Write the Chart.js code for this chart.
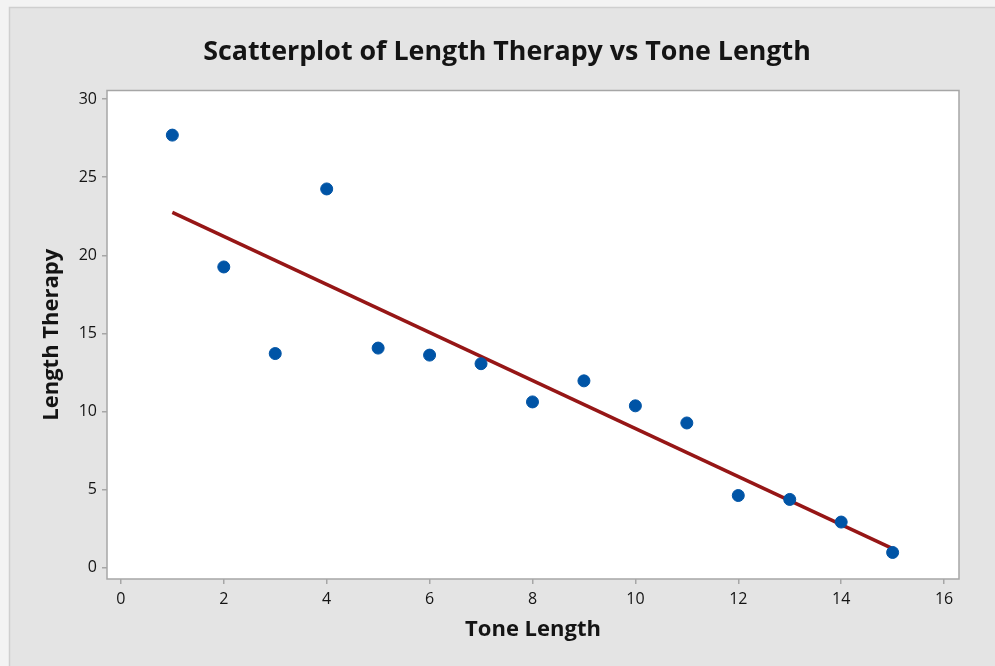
<!DOCTYPE html>
<html>
<head>
<meta charset="utf-8">
<title>Scatterplot of Length Therapy vs Tone Length</title>
<script src="https://cdn.jsdelivr.net/npm/chart.js@4.4.1/dist/chart.umd.min.js"></script>
<style>
    html, body { margin: 0; padding: 0; background: #f3f3f3; }
    #wrap { width: 995px; height: 666px; }
</style>
</head>
<body>
<div id="wrap"><canvas id="scatterChart" width="995" height="666"></canvas></div>
<script>
// Tone length vs length of therapy
const toneLength = [1, 2, 3, 4, 5, 6, 7, 8, 9, 10, 11, 12, 13, 14, 15];
const lengthTherapy = [27.7, 19.25, 13.7, 24.25, 14.05, 13.6, 13.05, 10.6, 11.95, 10.35, 9.25, 4.6, 4.35, 2.9, 0.95];

// Fitted line end points
const fitX = [1, 15];
const fitY = [22.75, 1.2];

const xTicks = [0, 2, 4, 6, 8, 10, 12, 14, 16];
const yTicks = [0, 5, 10, 15, 20, 25, 30];

const chartTitle = 'Scatterplot of Length Therapy vs Tone Length';

// grey frame, white plot area, border round it and the title text
const frameBackground = {
    id: 'frameBackground',
    beforeDraw(chart) {
        const ctx = chart.ctx;
        const area = chart.chartArea;
        ctx.save();
        ctx.fillStyle = '#f3f3f3';
        ctx.fillRect(0, 0, chart.width, chart.height);
        ctx.fillStyle = '#e4e4e4';
        ctx.fillRect(9, 7, chart.width - 9, chart.height - 7);
        ctx.strokeStyle = '#cfcfcf';
        ctx.lineWidth = 1.5;
        ctx.beginPath();
        ctx.moveTo(9.5, chart.height);
        ctx.lineTo(9.5, 7.5);
        ctx.lineTo(chart.width, 7.5);
        ctx.stroke();
        ctx.fillStyle = '#ffffff';
        ctx.fillRect(area.left, area.top, area.right - area.left, area.bottom - area.top);
        ctx.restore();
    },
    afterDatasetsDraw(chart) {
        const ctx = chart.ctx;
        const area = chart.chartArea;
        ctx.save();
        ctx.strokeStyle = '#a6a6a6';
        ctx.lineWidth = 1.5;
        ctx.strokeRect(area.left, area.top, area.right - area.left, area.bottom - area.top);
        ctx.fillStyle = '#141414';
        ctx.font = 'bold 26.8px "Open Sans"';
        ctx.textAlign = 'center';
        ctx.textBaseline = 'middle';
        ctx.fillText(chartTitle, 507, 52);
        ctx.restore();
    }
};

const ctx = document.getElementById('scatterChart');
new Chart(ctx, {
    type: 'scatter',
    data: {
        datasets: [
            {
                label: 'Length Therapy',
                data: toneLength.map((x, i) => ({ x: x, y: lengthTherapy[i] })),
                backgroundColor: '#0054a6',
                borderColor: '#0054a6',
                pointRadius: 6,
                pointHoverRadius: 6
            },
            {
                label: 'Fit',
                type: 'line',
                data: fitX.map((x, i) => ({ x: x, y: fitY[i] })),
                borderColor: '#961616',
                borderWidth: 3.5,
                pointRadius: 0,
                fill: false,
                tension: 0
            }
        ]
    },
    options: {
        responsive: false,
        animation: false,
        layout: { padding: { left: 0, right: 36, top: 90.5, bottom: 0 } },
        plugins: {
            legend: { display: false },
            tooltip: { enabled: false },
            title: { display: false }
        },
        scales: {
            x: {
                type: 'linear',
                min: -0.27,
                max: 16.29,
                afterBuildTicks: scale => { scale.ticks = xTicks.map(v => ({ value: v })); },
                afterFit: scale => { scale.height = 87; },
                border: { display: false },
                grid: { drawOnChartArea: false, drawTicks: true, tickLength: 5, color: '#a6a6a6', lineWidth: 1.5 },
                ticks: { color: '#141414', font: { family: 'Open Sans', size: 16 }, padding: 6, maxRotation: 0 },
                title: {
                    display: true,
                    text: 'Tone Length',
                    color: '#141414',
                    font: { family: 'Open Sans', size: 22, weight: 'bold' },
                    padding: { top: 0, bottom: 23 }
                }
            },
            y: {
                type: 'linear',
                min: -0.75,
                max: 30.56,
                afterBuildTicks: scale => { scale.ticks = yTicks.map(v => ({ value: v })); },
                afterFit: scale => { scale.width = 107; },
                border: { display: false },
                grid: { drawOnChartArea: false, drawTicks: true, tickLength: 5, color: '#a6a6a6', lineWidth: 1.5 },
                ticks: { color: '#141414', font: { family: 'Open Sans', size: 16 }, padding: 5 },
                title: {
                    display: true,
                    text: 'Length Therapy',
                    color: '#141414',
                    font: { family: 'Open Sans', size: 22, weight: 'bold' },
                    padding: { top: 39, bottom: 0 }
                }
            }
        }
    },
    plugins: [frameBackground]
});
</script>
</body>
</html>
